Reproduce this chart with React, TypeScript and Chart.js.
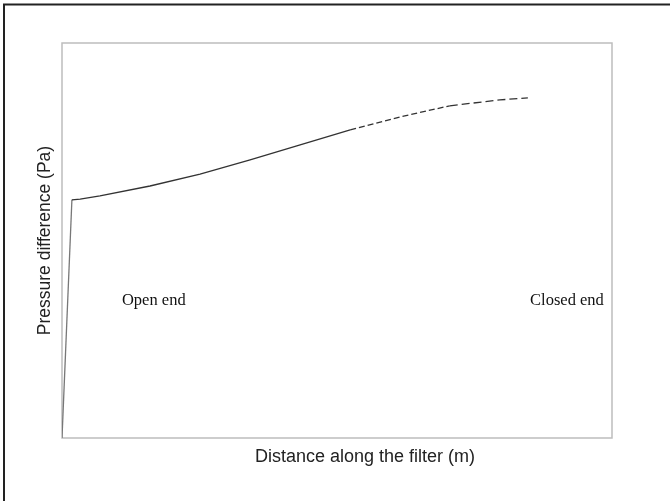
import React, { useEffect, useRef } from "react";
import { Chart, registerables } from "chart.js";

Chart.register(...registerables);

const distance = [0, 0.018, 0.033, 0.069, 0.16, 0.251, 0.342, 0.433, 0.524, 0.615, 0.705, 0.796, 0.847];
const pressure = [0, 0.603, 0.605, 0.613, 0.638, 0.668, 0.704, 0.742, 0.78, 0.813, 0.841, 0.856, 0.861];
const notes = [
  { text: "Open end", x: 0.109, y: 0.347 },
  { text: "Closed end", x: 0.851, y: 0.347 },
];
const xTitle = "Distance along the filter (m)";
const yTitle = "Pressure difference (Pa)";

const framePlugin = {
  id: "frame",
  beforeDraw(chart: any) {
    const { ctx, chartArea } = chart;
    ctx.save();
    ctx.fillStyle = "#ffffff";
    ctx.fillRect(0, 0, chart.width, chart.height);
    ctx.strokeStyle = "#222222";
    ctx.lineWidth = 2;
    ctx.beginPath();
    ctx.moveTo(4, chart.height + 2);
    ctx.lineTo(4, 4.5);
    ctx.lineTo(chart.width + 2, 4.5);
    ctx.stroke();
    ctx.strokeStyle = "#bdbdbd";
    ctx.lineWidth = 1.5;
    ctx.strokeRect(chartArea.left, chartArea.top, chartArea.right - chartArea.left, chartArea.bottom - chartArea.top);
    ctx.restore();
  },
  afterDatasetsDraw(chart: any) {
    const { ctx, scales, chartArea } = chart;
    ctx.save();
    ctx.fillStyle = "#111111";
    ctx.font = "16.5px 'Liberation Serif', serif";
    ctx.textBaseline = "middle";
    ctx.textAlign = "left";
    notes.forEach((n) => {
      ctx.fillText(n.text, scales.x.getPixelForValue(n.x), scales.y.getPixelForValue(n.y));
    });
    ctx.fillStyle = "#222222";
    ctx.font = "18px 'Liberation Sans', Arial, sans-serif";
    ctx.textAlign = "center";
    ctx.fillText(xTitle, scales.x.getPixelForValue(0.551), chartArea.bottom + 19);
    ctx.restore();
  },
};

export default function App() {
  const ref = useRef<HTMLCanvasElement>(null);
  useEffect(() => {
    if (!ref.current) return;
    const chart = new Chart(ref.current, {
      type: "line",
      data: {
        datasets: [
          {
            data: distance.map((d, i) => ({ x: d, y: pressure[i] })),
            borderColor: "#333333",
            borderWidth: 1.3,
            pointRadius: 0,
            tension: 0,
            fill: false,
            segment: {
              borderColor: (c: any) => (c.p0DataIndex === 0 ? "#777777" : "#333333"),
              borderDash: (c: any) => (c.p0DataIndex >= 10 ? [8, 4] : c.p0DataIndex >= 8 ? [6, 3] : undefined),
            },
          },
        ],
      },
      options: {
        animation: false,
        responsive: false,
        events: [],
        layout: { padding: { left: 30.5, top: 43, right: 58, bottom: 63 } },
        plugins: { legend: { display: false }, tooltip: { enabled: false } },
        scales: {
          x: {
            type: "linear",
            min: 0,
            max: 1,
            grid: { display: false, drawTicks: false },
            border: { display: false },
            ticks: { display: false },
            title: { display: false },
          },
          y: {
            type: "linear",
            min: 0,
            max: 1,
            grid: { display: false, drawTicks: false },
            border: { display: false },
            ticks: { display: false },
            title: {
              display: true,
              text: yTitle,
              color: "#222222",
              font: { family: "'Liberation Sans', Arial, sans-serif", size: 17.5 },
              padding: { top: 4, bottom: 6.5 },
            },
          },
        },
      },
      plugins: [framePlugin],
    });
    return () => chart.destroy();
  }, []);
  return (
    <div style={{ position: "fixed", left: 0, top: 0, width: 670, height: 501 }}>
      <canvas ref={ref} width={670} height={501} style={{ display: "block" }} />
    </div>
  );
}
